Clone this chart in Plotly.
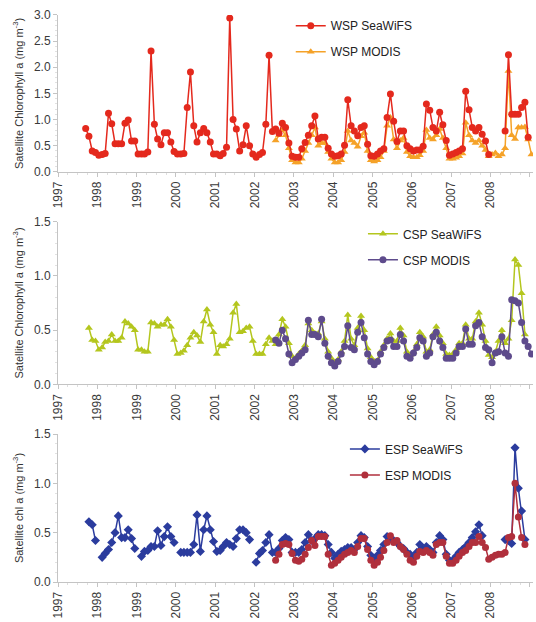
import plotly.graph_objects as go
from plotly.subplots import make_subplots

# ---------------- data (monthly means, mg m-3) ----------------
# WSP SeaWiFS: Sep 1997 - Dec 2008
wsp_seawifs = [
    0.83, 0.68, 0.40, 0.37,
    0.32, 0.33, 0.35, 1.12, 0.92, 0.54, 0.54, 0.54, 0.93, 0.99, 0.59, 0.59,
    0.34, 0.34, 0.34, 0.38, 2.31, 0.91, 0.63, 0.52, 0.75, 0.75, 0.57, 0.39,
    0.34, 0.34, 0.35, 1.23, 1.91, 0.88, 0.57, 0.75, 0.83, 0.75, 0.57, 0.34,
    0.34, 0.31, 0.35, 0.47, 2.94, 1.00, 0.82, 0.40, 0.52, 0.88, 0.50, 0.34,
    0.28, 0.33, 0.37, 0.91, 2.23, 0.77, 0.82, 0.74, 0.93, 0.85, 0.55, 0.30,
    0.28, 0.28, 0.44, 0.56, 0.70, 0.88, 1.07, 0.63, 0.66, 0.66, 0.45, 0.34,
    0.30, 0.31, 0.34, 0.51, 1.38, 0.88, 0.78, 0.69, 0.85, 0.88, 0.53, 0.31,
    0.30, 0.34, 0.40, 0.44, 1.04, 1.49, 0.97, 0.58, 0.78, 0.78, 0.50, 0.44,
    0.40, 0.42, 0.42, 0.49, 1.30, 1.18, 0.85, 0.78, 1.14, 0.90, 0.60, 0.32,
    0.34, 0.37, 0.40, 0.44, 1.54, 1.19, 0.85, 0.78, 0.85, 0.72, 0.59, 0.33,
    None, None, None, None, 0.78, 2.24, 1.10, 1.10, 1.10, 1.23, 1.33, 0.66,
]
# WSP MODIS: Jul 2002 - Jan 2009
wsp_modis = [
    0.60, 0.70, 0.80, 0.70, 0.45, 0.22,
    0.18, 0.18, 0.25, 0.40, 0.55, 0.70, 0.85, 0.50, 0.55, 0.55, 0.38, 0.25,
    0.18, 0.18, 0.22, 0.38, 0.78, 0.60, 0.55, 0.48, 0.68, 0.75, 0.40, 0.22,
    0.20, 0.22, 0.28, 0.40, 0.88, 1.04, 0.62, 0.45, 0.60, 0.65, 0.38, 0.30,
    0.28, 0.28, 0.32, 0.40, 0.80, 0.65, 0.62, 0.70, 0.82, 0.65, 0.45, 0.25,
    0.25, 0.27, 0.30, 0.35, 0.94, 0.70, 0.60, 0.55, 0.60, 0.50, 0.42, 0.30,
    0.33, 0.36, 0.30, 0.33, 0.45, 1.93, 0.70, 0.63, 0.85, 0.85, 0.86, 0.62,
    0.33,
]
# CSP SeaWiFS: Oct 1997 - Dec 2008
csp_seawifs = [
    0.52, 0.41, 0.40,
    0.32, 0.34, 0.39, 0.40, 0.46, 0.40, 0.40, 0.43, 0.58, 0.56, 0.53, 0.50,
    0.32, 0.32, 0.30, 0.30, 0.57, 0.56, 0.53, 0.55, 0.55, 0.60, 0.53, 0.41,
    0.28, 0.29, 0.31, 0.36, 0.43, 0.48, 0.45, 0.39, 0.58, 0.69, 0.55, 0.48,
    0.28, 0.36, 0.35, 0.37, 0.42, 0.66, 0.74, 0.48, 0.49, 0.52, 0.53, 0.40,
    0.28, 0.28, 0.28, 0.37, 0.43, 0.40, 0.37, 0.46, 0.60, 0.53, 0.38, 0.26,
    0.24, 0.28, 0.31, 0.36, 0.56, 0.50, 0.47, 0.47, 0.58, 0.42, 0.30, 0.24,
    0.20, 0.23, 0.30, 0.40, 0.64, 0.42, 0.36, 0.52, 0.63, 0.50, 0.33, 0.25,
    0.21, 0.22, 0.30, 0.36, 0.42, 0.47, 0.40, 0.40, 0.52, 0.45, 0.30, 0.27,
    0.30, 0.37, 0.48, 0.44, 0.30, 0.32, 0.46, 0.53, 0.45, 0.38, 0.28, 0.27,
    0.28, 0.32, 0.38, 0.38, 0.55, 0.42, 0.42, 0.58, 0.66, 0.55, 0.40, 0.27,
    0.25, 0.30, 0.40, 0.50, 0.38, 0.42, 0.59, 1.15, 1.10, 0.84, 0.46, None,
]
# CSP MODIS: Jul 2002 - Jan 2009
csp_modis = [
    0.41, 0.38, 0.50, 0.42, 0.28, 0.20,
    0.23, 0.26, 0.29, 0.32, 0.59, 0.46, 0.46, 0.44, 0.60, 0.38, 0.26, 0.20,
    0.17, 0.21, 0.28, 0.35, 0.54, 0.34, 0.32, 0.48, 0.57, 0.43, 0.28, 0.21,
    0.18, 0.21, 0.28, 0.34, 0.40, 0.41, 0.35, 0.35, 0.46, 0.40, 0.26, 0.24,
    0.29, 0.34, 0.43, 0.40, 0.26, 0.29, 0.44, 0.48, 0.40, 0.34, 0.24, 0.24,
    0.24, 0.29, 0.35, 0.35, 0.51, 0.37, 0.37, 0.54, 0.57, 0.44, 0.34, 0.32,
    0.20, 0.29, 0.30, 0.44, 0.29, 0.26, 0.78, 0.77, 0.75, 0.57, 0.40, 0.35,
    0.28,
]
# ESP SeaWiFS: Oct 1997 - Dec 2008
esp_seawifs = [
    0.61, 0.58, 0.42,
    None, 0.25, 0.29, 0.33, 0.40, 0.50, 0.67, 0.45, 0.45, 0.53, 0.44, 0.34,
    None, 0.26, 0.31, 0.32, 0.36, 0.36, 0.52, 0.37, 0.46, 0.56, 0.46, 0.40,
    None, 0.30, 0.30, 0.30, 0.30, 0.38, 0.68, 0.31, 0.53, 0.67, 0.53, 0.41,
    0.31, 0.32, 0.36, 0.40, 0.38, 0.36, 0.44, 0.53, 0.53, 0.50, 0.43, None,
    0.20, 0.29, 0.32, 0.40, 0.48, 0.30, 0.30, 0.34, 0.42, 0.45, 0.43, 0.30,
    0.30, 0.30, 0.33, 0.40, 0.48, 0.42, 0.44, 0.48, 0.48, 0.47, 0.38, 0.30,
    0.24, 0.28, 0.31, 0.33, 0.35, 0.35, 0.33, 0.40, 0.47, 0.45, 0.36, 0.27,
    0.22, 0.27, 0.32, 0.38, 0.46, 0.44, 0.42, 0.40, 0.36, 0.34, 0.30, 0.28,
    0.24, 0.30, 0.38, 0.33, 0.36, 0.33, 0.30, 0.40, 0.47, 0.43, 0.28, 0.22,
    0.22, 0.26, 0.30, 0.33, 0.36, 0.40, 0.45, 0.51, 0.58, 0.47, None, None,
    None, None, None, None, 0.43, 0.42, 0.39, 1.36, 0.95, 0.72, 0.43, None,
]
# ESP MODIS: Jul 2002 - Dec 2008
esp_modis = [
    0.22, 0.28, 0.38, 0.39, 0.38, 0.29,
    0.22, 0.21, 0.23, 0.28, 0.35, 0.42, 0.37, 0.46, 0.46, 0.46, 0.28, 0.17,
    0.19, 0.22, 0.25, 0.28, 0.30, 0.32, 0.30, 0.36, 0.44, 0.44, 0.33, 0.22,
    0.17, 0.20, 0.25, 0.32, 0.40, 0.47, 0.40, 0.42, 0.36, 0.33, 0.28, 0.22,
    0.20, 0.26, 0.31, 0.30, 0.32, 0.30, 0.27, 0.38, 0.40, 0.40, 0.26, 0.19,
    0.19, 0.22, 0.26, 0.30, 0.32, 0.36, 0.40, 0.40, 0.46, 0.40, 0.35, 0.23,
    0.25, 0.27, 0.28, 0.28, 0.30, 0.45, 0.46, 1.00, 0.66, 0.45, 0.38, None,
]

# series start months (year, month)
START = {
    "wsp_seawifs": (1997, 9), "wsp_modis": (2002, 7),
    "csp_seawifs": (1997, 10), "csp_modis": (2002, 7),
    "esp_seawifs": (1997, 10), "esp_modis": (2002, 7),
}


def months(start, n):
    y, m = start
    out = []
    for i in range(n):
        yy = y + (m - 1 + i) // 12
        mm = (m - 1 + i) % 12 + 1
        out.append(f"{yy}-{mm:02d}-15")
    return out


FONT = "Liberation Sans, Arial, sans-serif"

fig = make_subplots(rows=3, cols=1)

series = [
    # (values, key, name, color, symbol, row, legend, rank)
    (wsp_modis, "wsp_modis", "WSP MODIS", "#f5a228", "triangle-up", 1, "legend", 2),
    (wsp_seawifs, "wsp_seawifs", "WSP SeaWiFS", "#e4291d", "circle", 1, "legend", 1),
    (csp_seawifs, "csp_seawifs", "CSP SeaWiFS", "#b4c61e", "triangle-up", 2, "legend2", 1),
    (csp_modis, "csp_modis", "CSP MODIS", "#5e4b8c", "circle", 2, "legend2", 2),
    (esp_seawifs, "esp_seawifs", "ESP SeaWiFS", "#2b3c9e", "diamond", 3, "legend3", 1),
    (esp_modis, "esp_modis", "ESP MODIS", "#b02f3c", "circle", 3, "legend3", 2),
]

for vals, key, name, color, symbol, row, leg, rank in series:
    fig.add_trace(
        go.Scatter(
            x=months(START[key], len(vals)), y=vals, name=name,
            mode="lines+markers",
            line=dict(color=color, width=1.5),
            marker=dict(color=color, symbol=symbol, size=7, line=dict(width=0)),
            legend=leg, legendrank=rank, legendgroup=name,
            connectgaps=False,
        ),
        row=row, col=1,
    )

xcommon = dict(
    type="date", range=["1997-01-01", "2009-01-29"], tick0="1997-01-01", dtick="M12",
    tickformat="%Y", tickangle=-90, showline=True, linecolor="#c4c4c4", linewidth=1,
    ticks="outside", ticklen=4, tickcolor="#c4c4c4", showgrid=False, zeroline=False,
    tickfont=dict(family=FONT, size=12, color="#3a3a3a"),
    minor=dict(ticks="outside", ticklen=2, dtick="M3", tickcolor="#dedede"),
)
ycommon = dict(
    showline=True, linecolor="#c4c4c4", linewidth=1, ticks="outside", ticklen=4,
    tickcolor="#c4c4c4", showgrid=False, zeroline=False, tickformat=".1f", dtick=0.5,
    tickfont=dict(family=FONT, size=12, color="#3a3a3a"),
    title_font=dict(family=FONT, size=11, color="#333333"), title_standoff=8,
    minor=dict(ticks="outside", ticklen=2, dtick=0.1, tickcolor="#e2e2e2"),
)

domains = [[0.717, 0.9913], [0.3455, 0.630], [0.0, 0.2587]]
yranges = [[0, 3.0], [0, 1.5], [0, 1.5]]
ytitles = [
    "Satellite Chlorophyll a (mg m<sup>-3</sup>)",
    "Satellite Chlorophyll a (mg m<sup>-3</sup>)",
    "Satellite chl a (mg m<sup>-3</sup>)",
]
for i in range(3):
    fig.update_xaxes(**xcommon, row=i + 1, col=1)
    fig.update_yaxes(**ycommon, range=yranges[i], domain=domains[i], title_text=ytitles[i],
                     row=i + 1, col=1)

legcommon = dict(
    bgcolor="rgba(0,0,0,0)", font=dict(family=FONT, size=12, color="#222222"),
    xanchor="left", yanchor="top", itemwidth=30, tracegroupgap=7,
    traceorder="grouped",
)
fig.update_layout(
    width=536, height=622,
    margin=dict(l=58, r=3, t=10, b=36),
    paper_bgcolor="white", plot_bgcolor="white",
    legend=dict(**legcommon, x=0.49, y=0.998),
    legend2=dict(**legcommon, x=0.642, y=0.634),
    legend3=dict(**legcommon, x=0.604, y=0.258),
    font=dict(family=FONT),
)

fig.write_html("out.html")
